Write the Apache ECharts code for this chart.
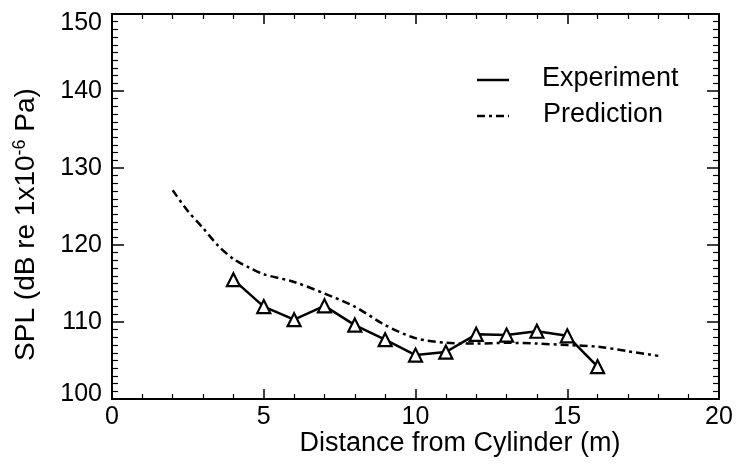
<!DOCTYPE html>
<html>
<head>
<meta charset="utf-8">
<script src="https://cdn.jsdelivr.net/npm/echarts@6/dist/echarts.min.js"></script>
<style>
html,body{margin:0;padding:0;background:#fff;}
#chart{width:740px;height:468px;}
</style>
</head>
<body>
<div id="chart"></div>
<script>
// ---- data ----
const expX = [4, 5, 6, 7, 8, 9, 10, 11, 12, 13, 14, 15, 16];
const expY = [115.5, 112.0, 110.3, 112.1, 109.6, 107.7, 105.7, 106.1, 108.4, 108.3, 108.8, 108.2, 104.2];
const predX = [2, 2.5, 3, 3.5, 4, 4.5, 5, 6, 7, 8, 9, 10, 11, 12, 13, 14, 15, 16, 17, 18];
const predY = [127.1, 124.4, 122.2, 119.9, 118.2, 117.1, 116.2, 115.2, 113.7, 112.0, 109.6, 107.9, 107.3, 107.2, 107.3, 107.2, 107.0, 106.8, 106.2, 105.6];
const xTicks = [0, 5, 10, 15, 20];
const yTicks = [100, 110, 120, 130, 140, 150];
const seriesNames = ['Experiment', 'Prediction'];
const xTitle = 'Distance from Cylinder (m)';

const FONT = '"Liberation Sans", Arial, Helvetica, sans-serif';
const chart = echarts.init(document.getElementById('chart'), null, {renderer: 'canvas'});

function axisCommon(isX, showLabels) {
  const ticks = isX ? xTicks : yTicks;
  const lo = ticks[0], hi = ticks[ticks.length - 1];
  return {
    type: 'value',
    min: lo,
    max: hi,
    interval: ticks[1] - ticks[0],
    axisLine: {show: true, onZero: false, lineStyle: {color: '#000', width: 2}},
    axisTick: {show: true, inside: true, length: isX ? 10 : 12, lineStyle: {color: '#000', width: 1.5}},
    minorTick: {show: true, splitNumber: isX ? 5 : 10, length: isX ? 5 : 6, lineStyle: {color: '#000', width: 1.2}},
    splitLine: {show: false},
    minorSplitLine: {show: false},
    axisLabel: {
      show: showLabels, color: '#000', fontSize: 25, fontFamily: FONT, margin: isX ? 6 : 10,
      formatter: isX ? '{value}' : function (v) {
        if (v === hi) return '{t|' + v + '}';
        if (v === lo) return '{b|' + v + '}';
        return '' + v;
      },
      rich: {
        t: {fontSize: 25, fontFamily: FONT, color: '#000', padding: [18, 0, 0, 0]},
        b: {fontSize: 25, fontFamily: FONT, color: '#000', padding: [0, 0, 10, 0]}
      }
    },
  };
}

const option = {
  backgroundColor: '#fff',
  animation: false,
  grid: {left: 112, right: 21, top: 14, bottom: 69, containLabel: false},
  xAxis: [
    Object.assign(axisCommon(true, true), {
      position: 'bottom',
      name: xTitle, nameLocation: 'middle', nameGap: 31, nameMoveOverlap: false,
      nameTextStyle: {color: '#000', fontSize: 27, fontFamily: FONT, padding: [0, 0, 0, 89]}
    }),
    Object.assign(axisCommon(true, false), {position: 'top'})
  ],
  yAxis: [
    Object.assign(axisCommon(false, true), {
      position: 'left',
      name: '{a|SPL (dB re 1x10}{s|-6}{a| Pa)}', nameLocation: 'middle', nameGap: 70, nameMoveOverlap: false,
      nameTextStyle: {
        color: '#000', fontFamily: FONT, padding: [0, 36, 0, 0],
        rich: {
          a: {fontSize: 28, fontFamily: FONT, color: '#000'},
          s: {fontSize: 18, fontFamily: FONT, color: '#000', verticalAlign: 'top', padding: [0, 0, 13, 0]}
        }
      }
    }),
    Object.assign(axisCommon(false, false), {position: 'right'})
  ],
  series: [
    {
      name: seriesNames[0], type: 'line',
      xAxisIndex: 0, yAxisIndex: 0,
      data: expX.map((x, i) => [x, expY[i]]),
      symbol: 'triangle', symbolSize: 13, showSymbol: true,
      lineStyle: {color: '#000', width: 2.5},
      itemStyle: {color: '#fff', borderColor: '#000', borderWidth: 2.2},
      z: 3
    },
    {
      name: seriesNames[1], type: 'line',
      xAxisIndex: 0, yAxisIndex: 0,
      data: predX.map((x, i) => [x, predY[i]]),
      symbol: 'none', smooth: 0.3,
      lineStyle: {color: '#000', width: 2.5, type: [8, 4, 3, 4]},
      z: 2
    }
  ],
  graphic: [
    {type: 'line', shape: {x1: 477, y1: 80, x2: 509, y2: 80}, style: {stroke: '#000', lineWidth: 2.5}},
    {type: 'text', left: 542, top: 65, style: {text: seriesNames[0], fill: '#000', font: '27px ' + FONT}},
    {type: 'line', shape: {x1: 477, y1: 116, x2: 509, y2: 116}, style: {stroke: '#000', lineWidth: 2.5, lineDash: [8, 4, 3, 4]}},
    {type: 'text', left: 543, top: 101, style: {text: seriesNames[1], fill: '#000', font: '27px ' + FONT}}
  ]
};
chart.setOption(option);
</script>
</body>
</html>
